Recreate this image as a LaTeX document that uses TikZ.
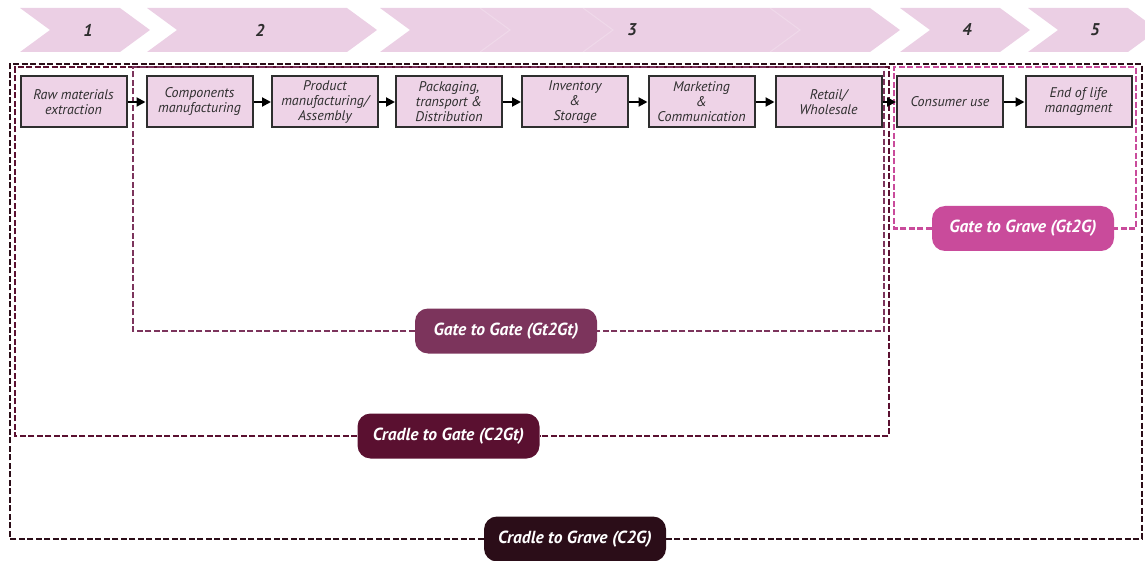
\documentclass[tikz,border=0pt]{standalone}
\usepackage{fontspec}
\setmainfont{PT Sans}
\usetikzlibrary{arrows.meta}

\definecolor{bandpink}{HTML}{EBCFE4}
\definecolor{boxpink}{HTML}{EED3E7}
\definecolor{boxline}{HTML}{2E2E2E}
\definecolor{cgrave}{HTML}{2B0D18}
\definecolor{cgate}{HTML}{5A1030}
\definecolor{ggate}{HTML}{7C345C}
\definecolor{ggrave}{HTML}{C94B9B}

\tikzset{
  stagebox/.style={draw=boxline, line width=2pt, fill=boxpink,
    minimum width=106pt, minimum height=51pt, inner sep=0.5pt,
    align=center, font=\fontsize{14}{15}\selectfont\itshape, text=boxline},
  flow/.style={draw=black, line width=2pt,
    -{Triangle[length=9pt,width=9pt]}},
  phase/.style={font=\fontsize{17}{17}\selectfont\bfseries\itshape, text=boxline},
  scopetag/.style={rounded corners=13pt, minimum width=182pt,
    minimum height=45pt, text=white, inner sep=2pt,
    font=\fontsize{17.5}{17.5}\selectfont\bfseries\itshape},
  frame/.style={line width=2.8pt, dash pattern=on 6pt off 2.5pt},
}

\begin{document}
\begin{tikzpicture}[x=1pt, y=-1pt]
\useasboundingbox (0,0) rectangle (1145,561);

% ---- phase band (chevrons) ----
\begin{scope}
\clip (0,0) rectangle (1145,561);
\foreach \a/\b in {20/150, 147/377, 380/900, 900/1030, 1028/1158}{
  \fill[bandpink] (\a,8) -- (\b-30,8) -- (\b,30) -- (\b-30,52) -- (\a,52)
     -- (\a+30,30) -- cycle;
}
\foreach \s in {510, 613, 800}{
  \draw[white, opacity=.22, line width=1pt] (\s-30,8) -- (\s,30) -- (\s-30,52);
}
\end{scope}
\node[phase] (p1) at (88,30) {1};
\node[phase] (p2) at (260,30) {2};
\node[phase] (p3) at (632,30) {3};
\node[phase] (p4) at (967,30) {4};
\node[phase] (p5) at (1095,30) {5};

% ---- scope frames ----
% Cradle to Grave
\node[scopetag, fill=cgrave] (c2g) at (575,539) {Cradle to Grave (C2G)};
\coordinate (c2gtl) at (10,64);
\coordinate (c2gtr) at (1142,64);
\draw[frame, cgrave] (c2g.west) -| (c2gtl) -- (c2gtr) |- (c2g.east);

% Cradle to Gate
\node[scopetag, fill=cgate] (c2gt) at (448.5,436) {Cradle to Gate (C2Gt)};
\coordinate (c2gttl) at (15,67);
\coordinate (c2gttr) at (889,67);
\draw[frame, cgate] (c2gt.west) -| (c2gttl) -- (c2gttr) |- (c2gt.east);

% Gate to Gate
\node[scopetag, fill=ggate] (gt2gt) at (506,331) {Gate to Gate (Gt2Gt)};
\coordinate (gt2gttl) at (133,67);
\coordinate (gt2gttr) at (884,67);
\draw[frame, ggate] (gt2gt.west) -| (gt2gttl) -- (gt2gttr) |- (gt2gt.east);

% Gate to Grave
\node[scopetag, fill=ggrave] (gt2g) at (1023,228.5) {Gate to Grave (Gt2G)};
\coordinate (gt2gtl) at (894,67);
\coordinate (gt2gtr) at (1136,67);
\draw[frame, ggrave] (gt2g.west) -| (gt2gtl) -- (gt2gtr) |- (gt2g.east);

% ---- life-cycle stages ----
\node[stagebox] (raw)  at (73.5,102)  {Raw materials\\extraction};
\node[stagebox] (comp) at (199.5,102) {Components\\manufacturing};
\node[stagebox] (prod) at (325,102)   {Product\\manufacturing/\\Assembly};
\node[stagebox] (pack) at (449,102)   {Packaging,\\transport \&\\Distribution};
\node[stagebox] (inv)  at (575,102)   {Inventory\\\&\\Storage};
\node[stagebox] (mark) at (701.5,102) {Marketing\\\&\\Communication};
\node[stagebox] (ret)  at (828.5,102) {Retail/\\Wholesale};
\node[stagebox] (cons) at (950,102)   {Consumer use};
\node[stagebox] (eol)  at (1078.5,102) {End of life\\managment};

\foreach \u/\v in {raw/comp, comp/prod, prod/pack, pack/inv, inv/mark,
                   mark/ret, ret/cons, cons/eol}{
  \draw[flow] (\u.east) -- (\v.west);
}
\end{tikzpicture}
\end{document}
